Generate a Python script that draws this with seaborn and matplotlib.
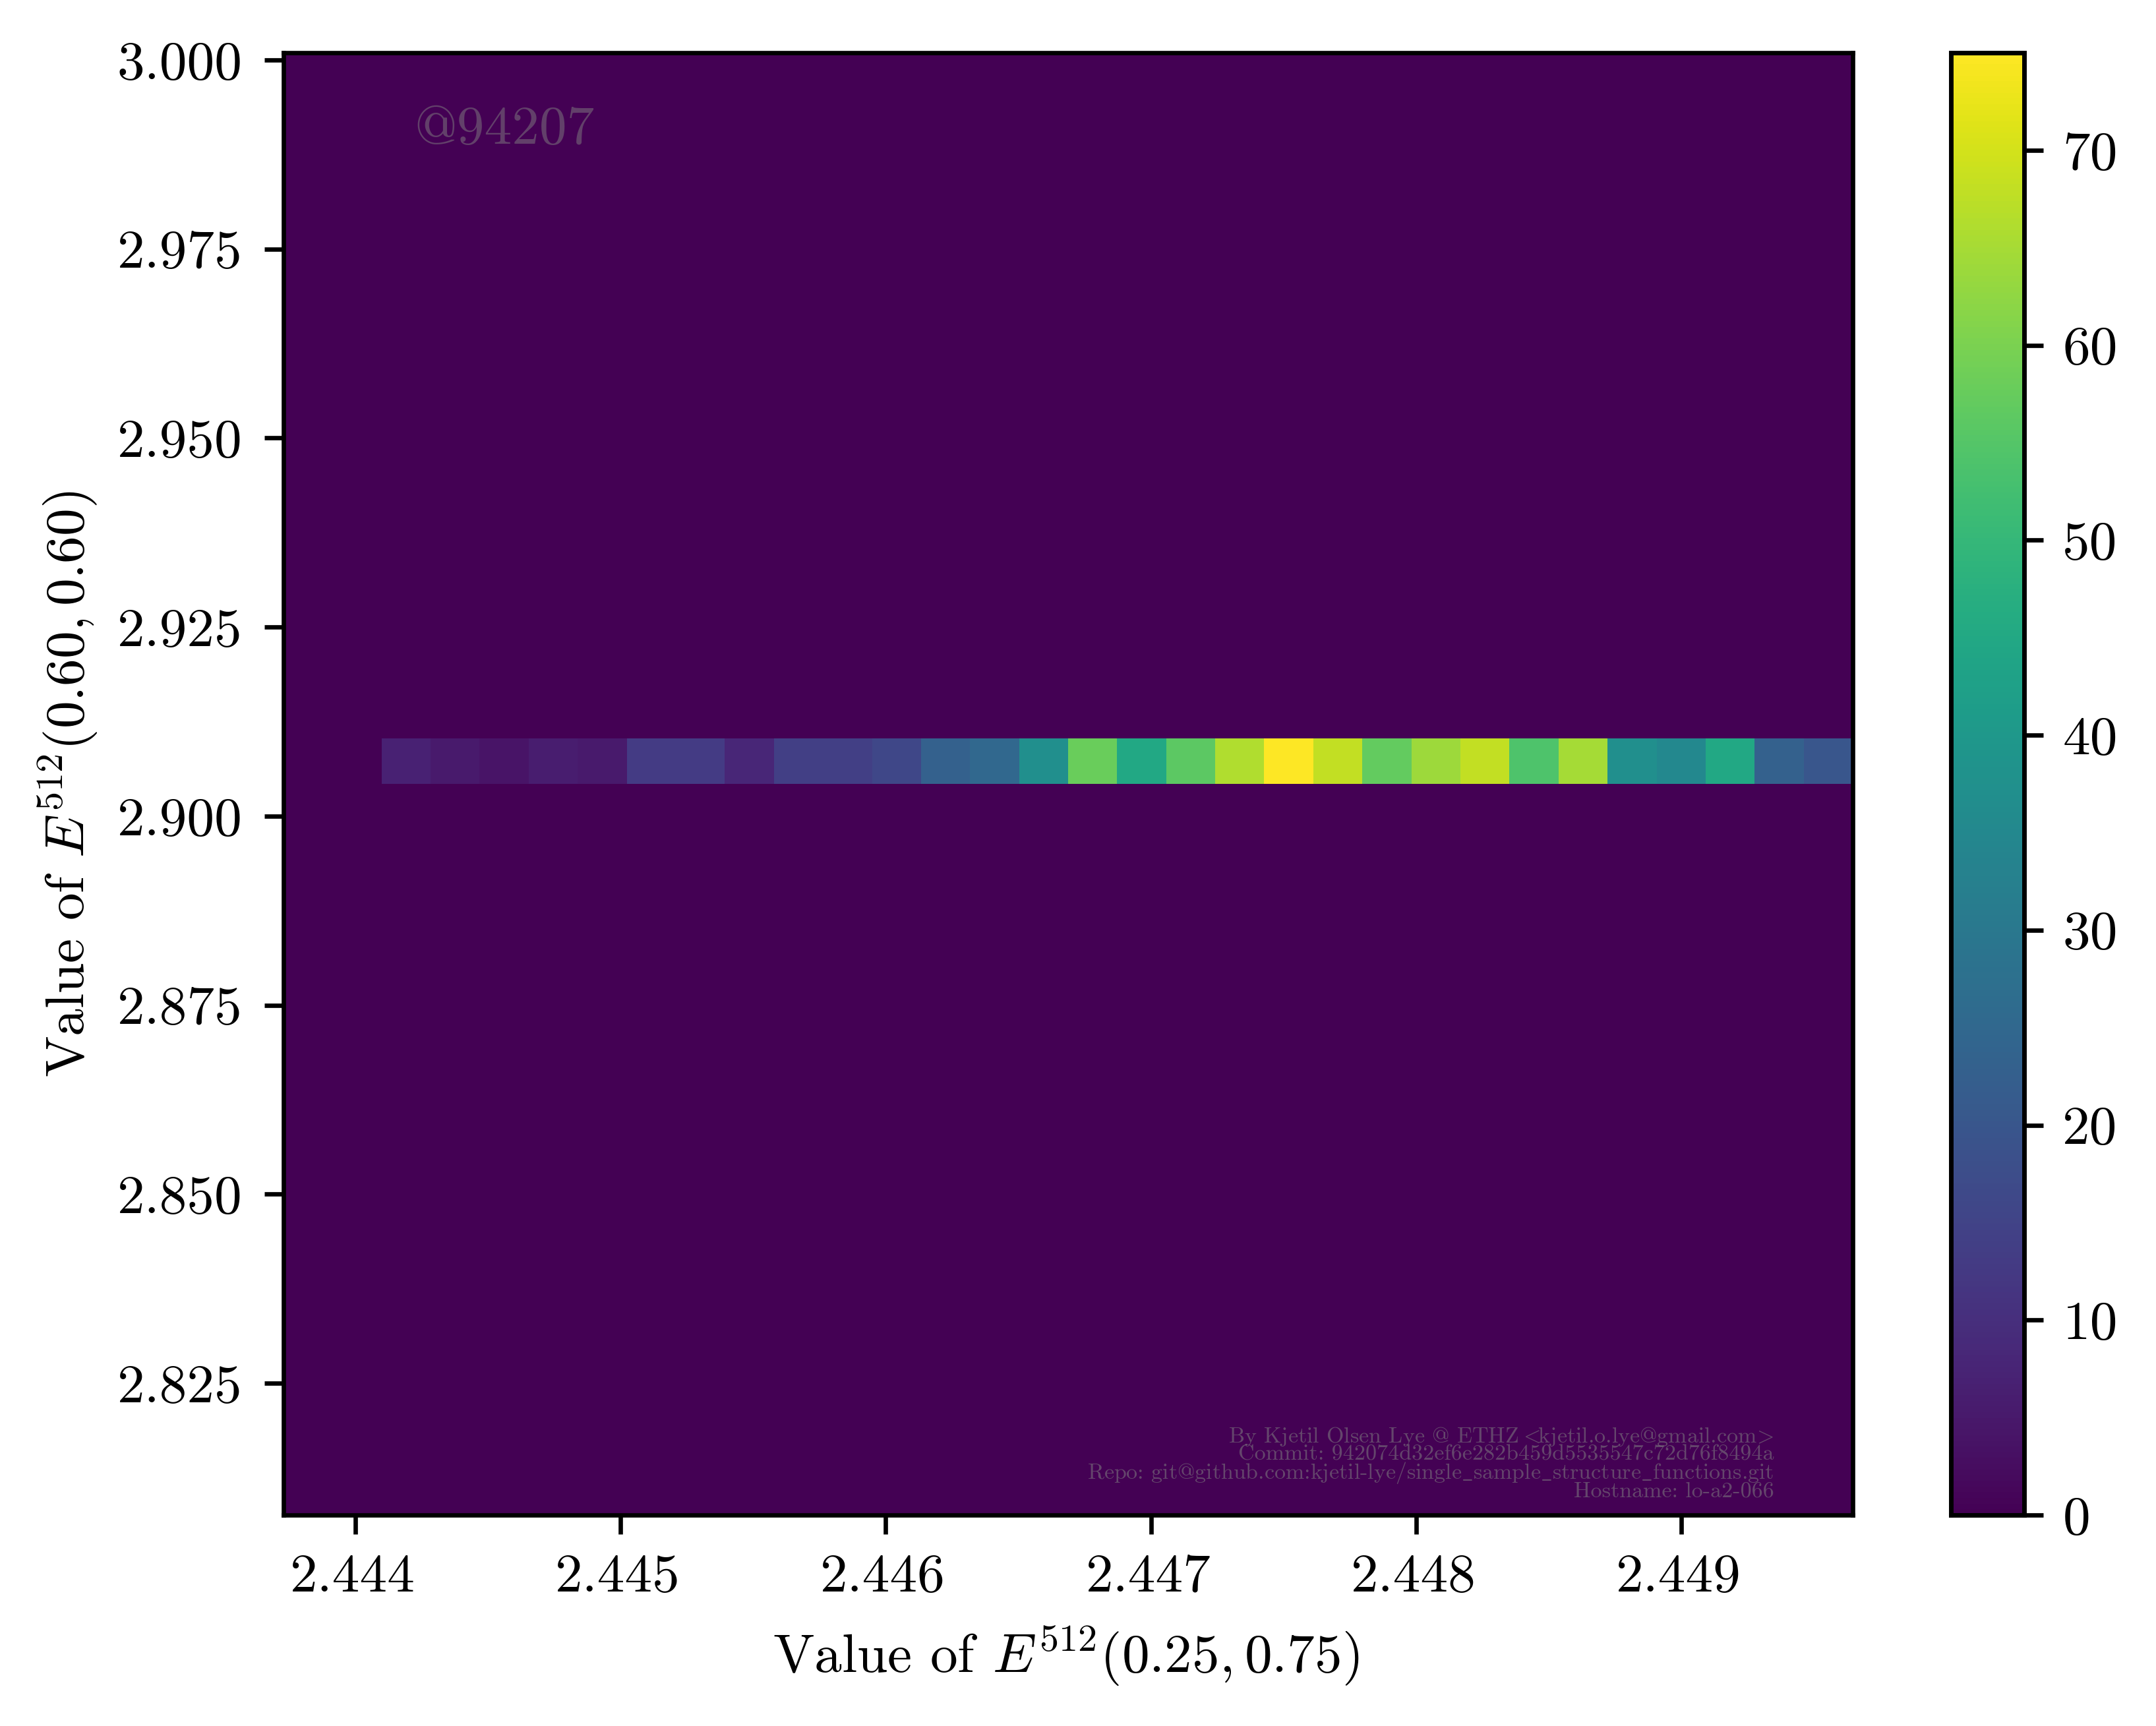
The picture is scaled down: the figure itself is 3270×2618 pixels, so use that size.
import matplotlib
matplotlib.use("Agg")
import matplotlib.pyplot as plt
from matplotlib.transforms import ScaledTranslation
import numpy as np
import seaborn as sns

# Bin centres along E(0.25,0.75) that hold samples, and their counts
x_values = [2.444192, 2.444377, 2.444562, 2.444747, 2.444932, 2.445117, 2.445302, 2.445486,
            2.445671, 2.445856, 2.446041, 2.446226, 2.446411, 2.446596, 2.446781, 2.446966,
            2.447150, 2.447335, 2.447520, 2.447705, 2.447890, 2.448075, 2.448260, 2.448445,
            2.448630, 2.448815, 2.448999, 2.449184, 2.449369, 2.449554]
counts = [7, 5, 4, 6, 5, 13, 13, 8, 14, 14, 16, 23, 25, 37, 58, 45, 56, 66, 75, 68,
          57, 64, 68, 54, 65, 37, 35, 45, 23, 20]
y_value = 2.9073

x_range = (2.443730, 2.449646)
y_range = (2.80757, 3.00096)
n_bins = 32
x_ticks = [2.444, 2.445, 2.446, 2.447, 2.448, 2.449]
y_ticks = [2.825, 2.850, 2.875, 2.900, 2.925, 2.950, 2.975, 3.000]
cbar_ticks = [0, 10, 20, 30, 40, 50, 60, 70]

x_label = r"Value of $E^{512}(0.25,0.75)$"
y_label = r"Value of $E^{512}(0.60,0.60)$"
stamp = "@94207"
credits = (r"By Kjetil Olsen Lye @ ETHZ $\!\!<\!\!$kjetil.o.lye@gmail.com$\!>$" "\n"
           "Commit: 942074d32ef6e282b459d5535547c72d76f8494a\n"
           r"Repo: git@github.com:kjetil-lye/single$\_$sample$\_$structure$\_$functions.git" "\n"
           "Hostname: lo-a2-066")

sns.set_theme(style="ticks")
plt.rcParams.update({
    "font.family": "cmr10",
    "mathtext.fontset": "cm",
    "axes.formatter.use_mathtext": True,
    "axes.unicode_minus": False,
    "font.size": 10,
    "axes.labelsize": 10,
    "xtick.labelsize": 10,
    "ytick.labelsize": 10,
    "axes.linewidth": 0.8,
    "xtick.major.width": 0.8,
    "ytick.major.width": 0.8,
    "xtick.major.size": 3.5,
    "ytick.major.size": 3.5,
    "text.color": "black",
    "axes.labelcolor": "black",
    "xtick.color": "black",
    "ytick.color": "black",
    "axes.edgecolor": "black",
})

W, H = 3270, 2618
fig = plt.figure(figsize=(W / 600, H / 600), dpi=600)
ax = fig.add_axes([430 / W, 1 - 2298 / H, (2810 - 430) / W, (2298 - 80) / H])
cax = fig.add_axes([2959 / W, 1 - 2298 / H, (3070 - 2959) / W, (2298 - 80) / H])

sns.histplot(
    x=np.array(x_values),
    y=np.full(len(x_values), y_value),
    weights=np.array(counts),
    bins=n_bins,
    binrange=(x_range, y_range),
    thresh=None,
    cmap="viridis",
    vmin=0,
    vmax=max(counts),
    cbar=True,
    cbar_ax=cax,
    ax=ax,
)
ax.grid(False)
ax.set_xlim(*x_range)
ax.set_ylim(*y_range)
ax.set_xticks(x_ticks)
ax.set_yticks(y_ticks)
ax.set_xticklabels([f"{v:.3f}" for v in x_ticks])
ax.set_yticklabels([f"{v:.3f}" for v in y_ticks])
ax.tick_params(axis="y", pad=4.0)
shift_left = ScaledTranslation(-4 / 600, 0, fig.dpi_scale_trans)
for lab in ax.get_xticklabels():
    lab.set_transform(lab.get_transform() + shift_left)
ax.set_xlabel(x_label, labelpad=4.2)
ax.set_ylabel(y_label, labelpad=3.0)
ax.xaxis.label.set_x(0.4985)
cax.set_yticks(cbar_ticks)
cax.set_yticklabels([str(v) for v in cbar_ticks])
cax.tick_params(right=True, left=False, labelright=True, labelleft=False)
for s in cax.spines.values():
    s.set_visible(True)
    s.set_linewidth(0.8)
    s.set_color("black")

ax.text(0.0832, 0.938, stamp, transform=ax.transAxes, fontsize=10, color="grey",
        alpha=0.5, ha="left", va="baseline")
ax.text(0.9497, 0.0095, credits, transform=ax.transAxes, fontsize=4.08, color="grey",
        alpha=0.55, ha="right", va="bottom", multialignment="right", linespacing=0.79)

fig.savefig("out.png", dpi=600)
